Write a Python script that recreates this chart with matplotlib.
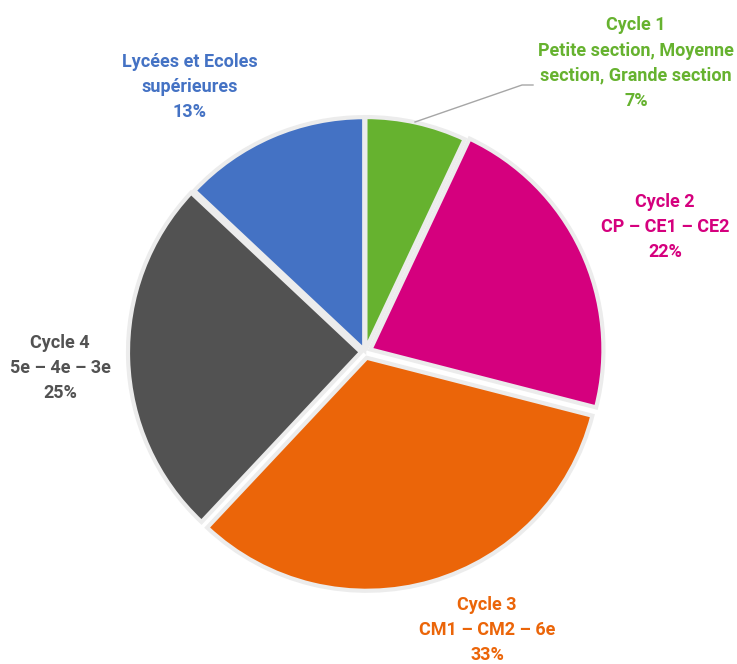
import matplotlib
matplotlib.use("Agg")
import matplotlib.pyplot as plt

# Données du graphique
categories = ["Cycle 1\nPetite section, Moyenne\nsection, Grande section",
              "Cycle 2\nCP – CE1 – CE2",
              "Cycle 3\nCM1 – CM2 – 6e",
              "Cycle 4\n5e – 4e – 3e",
              "Lycées et Ecoles\nsupérieures"]
valeurs = [7, 22, 33, 25, 13]
couleurs = ["#66B22F", "#D5007E", "#EB6509", "#525252", "#4472C4"]
ecarts = [2, 6, 6, 4, 2]

# Positions des étiquettes (pixels, depuis le haut)
pos_labels = [(636, 63), (665, 227), (487, 630), (60, 368), (190, 87)]

W, H = 737, 664
fig = plt.figure(figsize=(W / 100, H / 100), dpi=100)
ax = fig.add_axes([0, 0, 1, 1])

cx, cy, r = 365, H - 352, 233
wedges, _ = ax.pie(valeurs, colors=couleurs, startangle=90, counterclock=False,
                   center=(cx, cy), radius=r, explode=ecarts, frame=True,
                   wedgeprops=dict(edgecolor="#ececec", linewidth=3))
ax.set_xlim(0, W)
ax.set_ylim(0, H)
ax.axis("off")

for cat, val, col, (x, y) in zip(categories, valeurs, couleurs, pos_labels):
    ax.text(x, H - y, f"{cat}\n{val}%", color=col, ha="center", va="center",
            fontsize=13, fontweight="bold", family="Roboto", linespacing=1.5)

# Ligne de rappel pour le cycle 1
ax.plot([415, 522, 533], [H - 122, H - 85, H - 85], color="#a6a6a6", lw=1)

fig.savefig("out.png", dpi=100)
